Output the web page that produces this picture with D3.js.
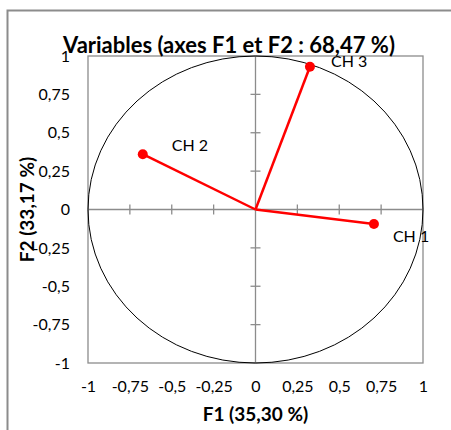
<!DOCTYPE html>
<html>
<head>
<meta charset="utf-8">
<script src="https://cdn.jsdelivr.net/npm/d3@7"></script>
<style>
  body { margin: 0; background: #fff; }
  text { font-family: Lato, "Open Sans", sans-serif; fill: #000; }
</style>
</head>
<body>
<div id="chart"></div>
<script>
var svgWidth = 451;
var svgHeight = 430;

// data
var varNames = ["CH 1", "CH 2", "CH 3"];
var f1Values = [0.707, -0.673, 0.325];
var f2Values = [-0.094, 0.36, 0.93];
var tickValues = [-1, -0.75, -0.5, -0.25, 0, 0.25, 0.5, 0.75, 1];
var tickLabels = ["-1", "-0,75", "-0,5", "-0,25", "0", "0,25", "0,5", "0,75", "1"];

var plot = { left: 88, top: 56, right: 423, bottom: 363 };

var svg = d3.select("#chart")
    .append("svg")
    .attr("width", svgWidth)
    .attr("height", svgHeight);

// outer frame
svg.append("rect")
    .attr("x", 7.5).attr("y", 10.5)
    .attr("width", 480).attr("height", 460)
    .attr("fill", "none")
    .attr("stroke", "#8c8c8c")
    .attr("stroke-width", 2);

var x = d3.scaleLinear().domain([-1, 1]).range([plot.left, plot.right]);
var y = d3.scaleLinear().domain([-1, 1]).range([plot.bottom, plot.top]);

var fmt = function(d) { return tickLabels[tickValues.indexOf(d)]; };

// plot area border
svg.append("rect")
    .attr("x", plot.left).attr("y", plot.top)
    .attr("width", plot.right - plot.left)
    .attr("height", plot.bottom - plot.top)
    .attr("fill", "none")
    .attr("stroke", "#8c8c8c")
    .attr("stroke-width", 1.3);

// tick labels
var leftAxis = d3.axisLeft(y).tickValues(tickValues).tickFormat(fmt).tickSize(0).tickPadding(18);
var bottomAxis = d3.axisBottom(x).tickValues(tickValues).tickFormat(fmt).tickSize(0).tickPadding(18);

var gy = svg.append("g").attr("transform", `translate(${plot.left}, 0)`).call(leftAxis);
var gx = svg.append("g").attr("transform", `translate(0, ${plot.bottom})`).call(bottomAxis);
[gx, gy].forEach(function(g) {
    g.select(".domain").remove();
    g.selectAll("text").attr("font-size", "16px").attr("font-family", "Lato, sans-serif").attr("fill", "#000");
});

// axes through origin
svg.append("line")
    .attr("x1", x(-1)).attr("x2", x(1))
    .attr("y1", y(0)).attr("y2", y(0))
    .attr("stroke", "#8c8c8c").attr("stroke-width", 1.3);
svg.append("line")
    .attr("x1", x(0)).attr("x2", x(0))
    .attr("y1", y(-1)).attr("y2", y(1))
    .attr("stroke", "#8c8c8c").attr("stroke-width", 1.3);

// cross ticks
var inner = tickValues.filter(d => d !== 0 && Math.abs(d) !== 1);
svg.selectAll(".xt").data(inner).enter().append("line")
    .attr("x1", d => x(d)).attr("x2", d => x(d))
    .attr("y1", y(0) - 5).attr("y2", y(0) + 5)
    .attr("stroke", "#8c8c8c").attr("stroke-width", 1.3);
svg.selectAll(".yt").data(inner).enter().append("line")
    .attr("x1", x(0) - 5).attr("x2", x(0) + 5)
    .attr("y1", d => y(d)).attr("y2", d => y(d))
    .attr("stroke", "#8c8c8c").attr("stroke-width", 1.3);

// correlation circle
svg.append("ellipse")
    .attr("cx", x(0)).attr("cy", y(0))
    .attr("rx", x(1) - x(0)).attr("ry", y(0) - y(1))
    .attr("fill", "none")
    .attr("stroke", "#000")
    .attr("stroke-width", 1);

// vectors
var points = varNames.map((n, i) => ({ name: n, f1: f1Values[i], f2: f2Values[i] }));

svg.selectAll(".vec").data(points).enter().append("line")
    .attr("x1", x(0)).attr("y1", y(0))
    .attr("x2", d => x(d.f1)).attr("y2", d => y(d.f2))
    .attr("stroke", "#ff0000").attr("stroke-width", 2.5);

svg.selectAll(".pt").data(points).enter().append("circle")
    .attr("cx", d => x(d.f1)).attr("cy", d => y(d.f2))
    .attr("r", 5)
    .attr("fill", "#ff0000");

var labelOffset = { "CH 1": [19, 18], "CH 2": [29, -3], "CH 3": [21, 0] };
svg.selectAll(".lbl").data(points).enter().append("text")
    .attr("x", d => x(d.f1) + labelOffset[d.name][0])
    .attr("y", d => y(d.f2) + labelOffset[d.name][1])
    .attr("font-size", "16px")
    .text(d => d.name);

// title
svg.append("text")
    .attr("x", 229).attr("y", 53)
    .attr("text-anchor", "middle")
    .attr("font-size", "22px")
    .attr("font-weight", "bold")
    .text("Variables (axes F1 et F2 : 68,47 %)");

// axis titles
svg.append("text")
    .attr("x", x(0)).attr("y", 421)
    .attr("text-anchor", "middle")
    .attr("font-size", "19px")
    .attr("font-weight", "bold")
    .text("F1 (35,30 %)");

svg.append("text")
    .attr("transform", `translate(34, ${y(0)}) rotate(-90)`)
    .attr("text-anchor", "middle")
    .attr("font-size", "19px")
    .attr("font-weight", "bold")
    .text("F2 (33,17 %)");
</script>
</body>
</html>
